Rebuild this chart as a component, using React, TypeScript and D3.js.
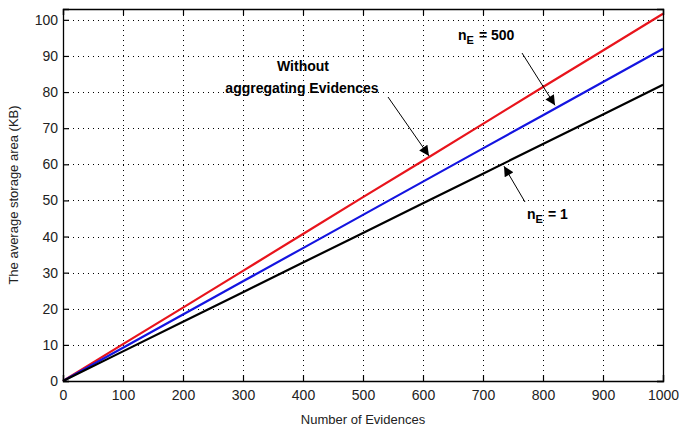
import React, { useEffect, useRef } from 'react';
import * as d3 from 'd3';

// x values (number of evidences)
const evidences = [0, 100, 200, 300, 400, 500, 600, 700, 800, 900, 1000];
// storage (KB)
const withoutAggregating = [0, 10.2, 20.3, 30.5, 40.7, 50.9, 61.0, 71.2, 81.4, 91.5, 101.7];
const nE500 = [0, 9.2, 18.4, 27.6, 36.8, 46.0, 55.2, 64.4, 73.6, 82.8, 92.0];
const nE1 = [0, 8.2, 16.4, 24.6, 32.8, 41.0, 49.2, 57.4, 65.6, 73.8, 82.0];

const xTicks = [0, 100, 200, 300, 400, 500, 600, 700, 800, 900, 1000];
const yTicks = [0, 10, 20, 30, 40, 50, 60, 70, 80, 90, 100];

const series = [
    { name: 'Without aggregating Evidences', values: withoutAggregating, color: '#e8141c' },
    { name: 'nE = 500', values: nE500, color: '#1414e0' },
    { name: 'nE = 1', values: nE1, color: '#000000' }
];

const App = () => {
    const svgRef = useRef(null);

    useEffect(() => {
        const svg = d3.select(svgRef.current);
        const width = 679;
        const height = 426;
        const margin = { top: 9, right: 16, bottom: 45, left: 63 };
        const font = 'Liberation Sans, Arial, sans-serif';

        svg.selectAll('*').remove();

        const x = d3.scaleLinear().domain([0, 1000]).range([margin.left, width - margin.right]);
        const y = d3.scaleLinear().domain([0, 103]).range([height - margin.bottom, margin.top]);

        const x0 = margin.left, x1 = width - margin.right;
        const y0 = height - margin.bottom, y1 = margin.top;

        // 网格
        const grid = svg.append('g').attr('stroke', '#000').attr('stroke-width', 1)
            .attr('stroke-dasharray', '1,4').attr('shape-rendering', 'crispEdges');
        grid.selectAll('.gx').data(xTicks.slice(1, -1)).join('line')
            .attr('x1', d => Math.round(x(d)) + 0.5).attr('x2', d => Math.round(x(d)) + 0.5)
            .attr('y1', y0).attr('y2', y1);
        grid.selectAll('.gy').data(yTicks.slice(1)).join('line')
            .attr('class', 'gy')
            .attr('x1', x0).attr('x2', x1)
            .attr('y1', d => Math.round(y(d)) + 0.5).attr('y2', d => Math.round(y(d)) + 0.5);

        // 线
        const line = d3.line<number>()
            .x((d, i) => x(evidences[i]))
            .y(d => y(d));

        svg.append('g')
            .selectAll('path')
            .data(series)
            .join('path')
            .attr('fill', 'none')
            .attr('stroke', d => d.color)
            .attr('stroke-width', 2.2)
            .attr('d', d => line(d.values));

        // 坐标轴 (MATLAB style, ticks inward on all sides)
        const tickLen = 6;
        const axisBottom = svg.append('g').attr('transform', `translate(0,${y0})`)
            .call(d3.axisBottom(x).tickValues(xTicks).tickSize(-tickLen).tickPadding(9).tickFormat(d3.format('d')));
        const axisTop = svg.append('g').attr('transform', `translate(0,${y1})`)
            .call(d3.axisTop(x).tickValues(xTicks).tickSize(-tickLen).tickFormat(() => ''));
        const axisLeft = svg.append('g').attr('transform', `translate(${x0},0)`)
            .call(d3.axisLeft(y).tickValues(yTicks).tickSize(-tickLen).tickPadding(5));
        const axisRight = svg.append('g').attr('transform', `translate(${x1},0)`)
            .call(d3.axisRight(y).tickValues(yTicks).tickSize(-tickLen).tickFormat(() => ''));

        [axisBottom, axisTop, axisLeft, axisRight].forEach(a => {
            a.select('.domain').attr('stroke', '#000').attr('stroke-width', 1.3);
            a.selectAll('.tick line').attr('stroke', '#000').attr('stroke-width', 1.2);
            a.selectAll('text').attr('font-family', font).attr('font-size', 14).attr('fill', '#222');
        });

        // 轴标题
        svg.append('text')
            .attr('x', (x0 + x1) / 2).attr('y', 424)
            .attr('text-anchor', 'middle')
            .attr('font-family', font).attr('font-size', 13).attr('fill', '#222')
            .text('Number of Evidences');

        svg.append('text')
            .attr('transform', `translate(18,${(y0 + y1) / 2}) rotate(-90)`)
            .attr('text-anchor', 'middle')
            .attr('font-family', font).attr('font-size', 13).attr('fill', '#222')
            .text('The average storage area (KB)');

        // 箭头
        svg.append('defs').append('marker')
            .attr('id', 'ah')
            .attr('viewBox', '0 0 10 10')
            .attr('refX', 10).attr('refY', 5)
            .attr('markerWidth', 14).attr('markerHeight', 10)
            .attr('markerUnits', 'userSpaceOnUse')
            .attr('orient', 'auto')
            .append('path').attr('d', 'M0,0 L10,5 L0,10 z').attr('fill', '#000');

        const arrows = [
            { from: [388, 97], to: [x(610), y(61.5) - 3] },
            { from: [522, 53], to: [x(820), y(75.5) - 3] },
            { from: [525, 202], to: [x(735), y(60.3) + 3] }
        ];
        svg.append('g').selectAll('line').data(arrows).join('line')
            .attr('x1', d => d.from[0]).attr('y1', d => d.from[1])
            .attr('x2', d => d.to[0]).attr('y2', d => d.to[1])
            .attr('stroke', '#000').attr('stroke-width', 1)
            .attr('marker-end', 'url(#ah)');

        // 注释文字
        const ann = svg.append('g').attr('font-family', font).attr('font-size', 14)
            .attr('font-weight', 'bold').attr('fill', '#000');
        ann.append('text').attr('x', 303).attr('y', 71).attr('text-anchor', 'middle').text('Without');
        ann.append('text').attr('x', 302).attr('y', 93).attr('text-anchor', 'middle').text('aggregating Evidences');

        const t500 = ann.append('text').attr('x', 458).attr('y', 40);
        t500.append('tspan').text('n');
        t500.append('tspan').attr('font-size', 11).attr('dy', 4).text('E');
        t500.append('tspan').attr('dy', -4).attr('dx', 5).text('= 500');

        const t1 = ann.append('text').attr('x', 527).attr('y', 219);
        t1.append('tspan').text('n');
        t1.append('tspan').attr('font-size', 11).attr('dy', 4).text('E');
        t1.append('tspan').attr('dy', -4).attr('dx', 5).text('= 1');
    }, []);

    return <svg ref={svgRef} width={679} height={426} style={{ position: 'absolute', left: 0, top: 0, background: '#fff' }}></svg>;
};

export default App;
